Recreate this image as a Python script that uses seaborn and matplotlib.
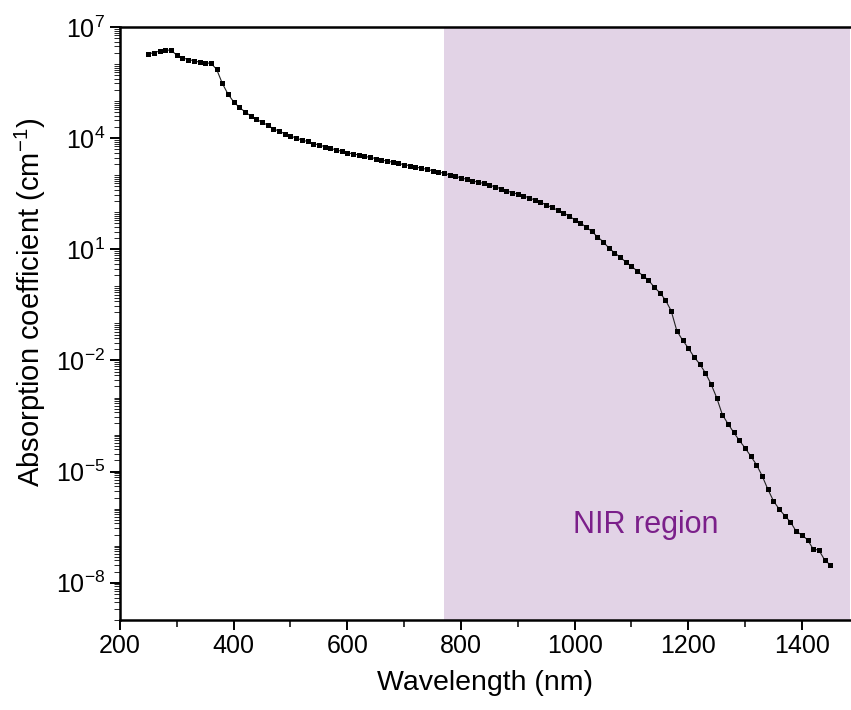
import numpy as np
import pandas as pd
import matplotlib
matplotlib.use("Agg")
import matplotlib.pyplot as plt
import matplotlib.ticker as mticker
import seaborn as sns

# Wavelength (nm) and log10 of absorption coefficient (cm^-1)
wavelength = list(range(250, 1451, 10))
log_alpha = [
    6.27, 6.31, 6.35, 6.38, 6.37, 6.24, 6.17, 6.12, 6.09, 6.05,   # 250-340
    6.03, 6.02, 5.86, 5.48, 5.19, 4.98, 4.83, 4.71, 4.60, 4.51,   # 350-440
    4.43, 4.35, 4.25, 4.19, 4.12, 4.06, 4.00, 3.95, 3.91, 3.85,   # 450-540
    3.82, 3.77, 3.73, 3.68, 3.65, 3.61, 3.57, 3.55, 3.51, 3.48,   # 550-640
    3.45, 3.41, 3.38, 3.35, 3.32, 3.28, 3.26, 3.22, 3.19, 3.16,   # 650-740
    3.12, 3.09, 3.05, 3.01, 2.97, 2.93, 2.89, 2.85, 2.81, 2.78,   # 750-840
    2.74, 2.68, 2.64, 2.58, 2.53, 2.49, 2.44, 2.39, 2.33, 2.27,   # 850-940
    2.20, 2.13, 2.06, 1.99, 1.90, 1.80, 1.72, 1.60, 1.49, 1.34,   # 950-1040
    1.21, 1.04, 0.91, 0.79, 0.66, 0.54, 0.42, 0.29, 0.17, -0.02,  # 1050-1140
    -0.17, -0.37, -0.66, -1.20, -1.45, -1.66, -1.90, -2.09, -2.33, -2.63,  # 1150-1240
    -3.00, -3.46, -3.71, -3.94, -4.16, -4.36, -4.58, -4.81, -5.11, -5.47,  # 1250-1340
    -5.79, -6.01, -6.19, -6.36, -6.61, -6.71, -6.84, -7.09, -7.12, -7.38,  # 1350-1440
    -7.52,                                                           # 1450
]
nir_start = 770
nir_label = "NIR region"

df = pd.DataFrame({"wavelength": wavelength, "alpha": np.power(10.0, log_alpha)})

sns.set_style("ticks")
plt.rcParams["font.family"] = ["Liberation Sans", "DejaVu Sans"]
plt.rcParams["mathtext.fontset"] = "custom"
plt.rcParams["mathtext.rm"] = "Liberation Sans"
plt.rcParams["mathtext.it"] = "Liberation Sans"
plt.rcParams["text.color"] = "black"
plt.rcParams["axes.labelcolor"] = "black"

fig = plt.figure(figsize=(8.51, 7.10), dpi=100)
ax = fig.add_axes([0.141, 0.127, 0.858, 0.835])

ax.axvspan(nir_start, 1500, color="#e2d3e6", lw=0, zorder=0)

sns.lineplot(data=df, x="wavelength", y="alpha", ax=ax, color="#222222",
             linewidth=0.8, marker="s", markersize=3.6, markeredgewidth=0,
             markerfacecolor="black", zorder=3)

ax.set_yscale("log")
ax.set_xlim(200, 1485)
ax.set_ylim(1e-9, 1e7)

ax.xaxis.set_major_locator(mticker.MultipleLocator(200))
ax.xaxis.set_minor_locator(mticker.MultipleLocator(100))
ax.yaxis.set_major_locator(mticker.FixedLocator([10.0**k for k in range(-8, 8, 3)]))
ax.yaxis.set_minor_locator(mticker.LogLocator(base=10, subs=np.arange(1, 10), numticks=100))
ax.yaxis.set_minor_formatter(mticker.NullFormatter())
ax.yaxis.set_major_formatter(mticker.FuncFormatter(lambda v, p: r"$10^{%d}$" % round(np.log10(v))))

ax.tick_params(axis="both", which="major", direction="out", length=7, width=1.4,
               labelsize=18, colors="black")
ax.tick_params(axis="y", which="minor", direction="out", length=4, width=0.7)
ax.tick_params(axis="x", which="minor", direction="out", length=5, width=1.3)

for s in ["left", "bottom", "top"]:
    ax.spines[s].set_linewidth(1.8)
    ax.spines[s].set_color("black")
ax.spines["right"].set_visible(False)

ax.set_xlabel("Wavelength (nm)", fontsize=20.5, labelpad=8)
ax.set_ylabel(r"Absorption coefficient (cm$^{-1}$)", fontsize=21)
ax.yaxis.set_label_coords(-0.098, 0.535)

ax.text(1125, 10**-6.45, nir_label, color="#7b1f8a", fontsize=22, ha="center", va="center")

fig.savefig("out.png", dpi=100)
